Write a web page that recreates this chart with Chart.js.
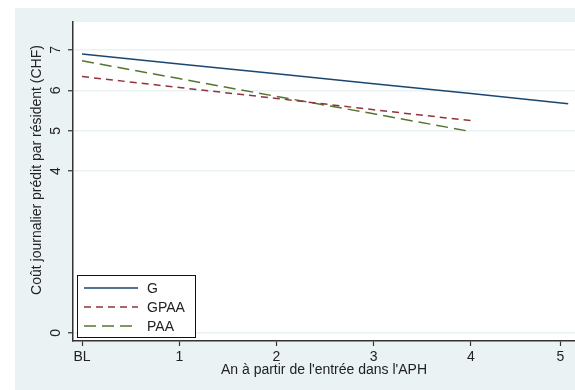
<!DOCTYPE html>
<html>
<head>
<meta charset="utf-8">
<script src="https://cdn.jsdelivr.net/npm/chart.js@4"></script>
<style>
  html, body { margin: 0; padding: 0; background: #fff; }
  #wrap { width: 575px; height: 390px; }
</style>
</head>
<body>
<div id="wrap"><canvas id="chart" width="575" height="390"></canvas></div>
<script>
// ---- data ----
const years = [0, 1, 2, 3, 4, 5];
const seriesNames = ["G", "GPAA", "PAA"];
const gValues = [6.90, 6.65, 6.41, 6.16, 5.92, 5.67];
const gpaaValues = [6.34, 6.07, 5.80, 5.52, 5.25];
const paaValues = [6.73, 6.29, 5.85, 5.42, 4.98];
const yTickValues = [0, 4, 5, 6, 7];
const xTickValues = [0, 1, 2, 3, 4, 4.92];
const xTickLabels = ["BL", "1", "2", "3", "4", "5"];

const FONT = "'Liberation Sans', Arial, sans-serif";
const BG = "#eaf2f3";
const TXT = "#222";

function pts(vals) {
  return vals.map((v, i) => ({ x: years[i], y: v }));
}

// background + rotated y labels + legend
const stataLook = {
  id: "stataLook",
  beforeDraw(chart) {
    const ctx = chart.ctx;
    const a = chart.chartArea;
    ctx.save();
    ctx.fillStyle = "#fff";
    ctx.fillRect(0, 0, chart.width, chart.height);
    ctx.fillStyle = BG;
    ctx.fillRect(15, 8, chart.width - 15, chart.height - 8);
    ctx.fillStyle = "#fff";
    ctx.fillRect(a.left, a.top, a.right - a.left, a.bottom - a.top);
    ctx.restore();
  },
  afterDraw(chart) {
    const ctx = chart.ctx;
    const ys = chart.scales.y;
    const a = chart.chartArea;
    ctx.save();
    ctx.fillStyle = TXT;
    ctx.font = "14px " + FONT;
    ctx.textAlign = "center";
    ctx.textBaseline = "middle";
    yTickValues.forEach((v) => {
      const py = ys.getPixelForValue(v);
      ctx.save();
      ctx.translate(56, py);
      ctx.rotate(-Math.PI / 2);
      ctx.fillText(String(v), 0, 0);
      ctx.restore();
    });
    // y title
    ctx.save();
    ctx.translate(37, 170);
    ctx.rotate(-Math.PI / 2);
    ctx.fillText("Coût journalier prédit par résident (CHF)", 0, 0);
    ctx.restore();
    // x title
    ctx.fillText("An à partir de l'entrée dans l'APH", (a.left + a.right) / 2, 370);

    // legend
    const lx = 77, ly = 275, lw = 118, lh = 62;
    ctx.fillStyle = "#fff";
    ctx.fillRect(lx, ly, lw, lh);
    ctx.strokeStyle = "#111";
    ctx.lineWidth = 1;
    ctx.strokeRect(lx + 0.5, ly + 0.5, lw, lh);
    chart.data.datasets.forEach((ds, i) => {
      const ry = ly + 13 + i * 19;
      ctx.beginPath();
      ctx.setLineDash(ds.borderDash || []);
      ctx.strokeStyle = ds.borderColor;
      ctx.lineWidth = ds.borderWidth;
      ctx.moveTo(84, ry);
      ctx.lineTo(138, ry);
      ctx.stroke();
      ctx.setLineDash([]);
      ctx.fillStyle = TXT;
      ctx.textAlign = "left";
      ctx.fillText(ds.label, 147, ry + 1);
    });
    ctx.restore();
  }
};

new Chart(document.getElementById("chart"), {
  type: "line",
  data: {
    datasets: [
      { label: seriesNames[0], data: pts(gValues), borderColor: "#1a476f", borderWidth: 1.5 },
      { label: seriesNames[1], data: pts(gpaaValues), borderColor: "#90353b", borderWidth: 1.5, borderDash: [7, 5] },
      { label: seriesNames[2], data: pts(paaValues), borderColor: "#55752f", borderWidth: 1.5, borderDash: [12, 6] }
    ]
  },
  options: {
    responsive: false,
    animation: false,
    layout: { padding: { top: 22, right: 0, left: 0, bottom: 0 } },
    elements: { point: { radius: 0 }, line: { tension: 0 } },
    plugins: { legend: { display: false }, tooltip: { enabled: false } },
    scales: {
      x: {
        type: "linear",
        min: -0.093,
        max: 5.07,
        afterBuildTicks(s) { s.ticks = xTickValues.map((v) => ({ value: v })); },
        afterFit(s) { s.height = 49; },
        ticks: {
          autoSkip: false,
          maxRotation: 0,
          padding: 3,
          color: TXT,
          font: { family: FONT, size: 14 },
          callback(v, i) { return xTickLabels[i]; }
        },
        grid: { drawOnChartArea: false, tickLength: 5, tickColor: "#333", tickWidth: 1.2 },
        border: { color: "#333", width: 1.5 }
      },
      y: {
        min: -0.2,
        max: 7.69,
        afterBuildTicks(s) { s.ticks = yTickValues.map((v) => ({ value: v })); },
        afterFit(s) { s.width = 73; },
        ticks: { color: "transparent", font: { family: FONT, size: 14 } },
        grid: { color: BG, lineWidth: 1.5, tickLength: 5, tickColor: "#333", tickWidth: 1.2 },
        border: { color: "#333", width: 1.5 }
      }
    }
  },
  plugins: [stataLook]
});
</script>
</body>
</html>
